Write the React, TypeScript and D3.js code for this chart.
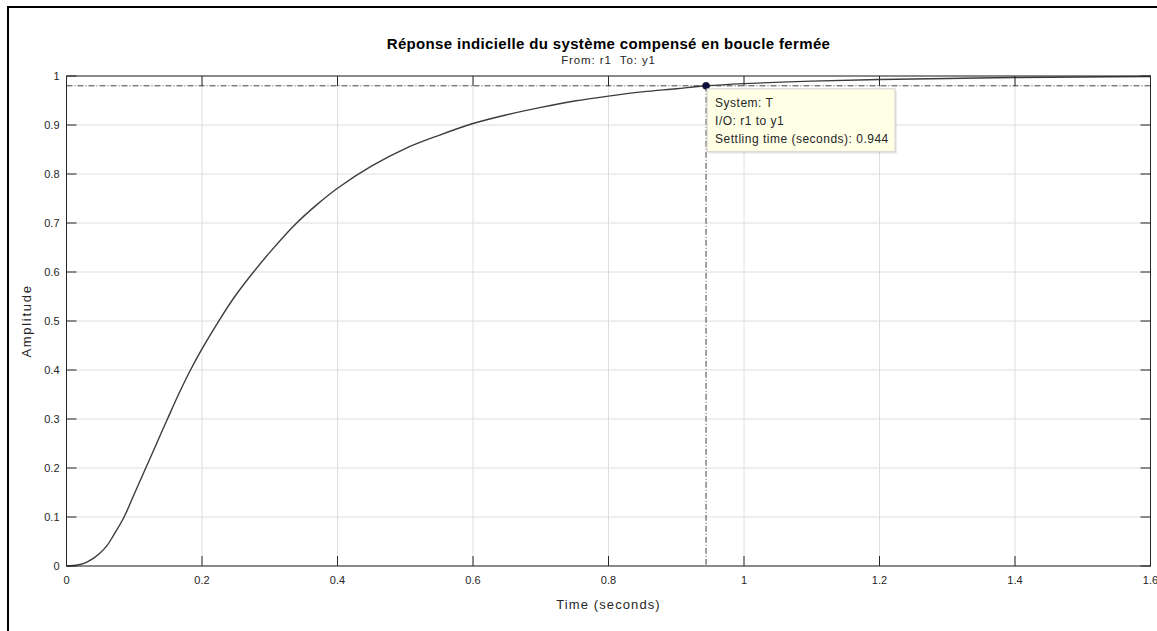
import React from "react";
import * as d3 from "d3";

const timeValues = [0, 0.01, 0.02, 0.03, 0.04, 0.05, 0.06, 0.07, 0.085, 0.1, 0.117, 0.133, 0.149, 0.166, 0.183, 0.2, 0.227, 0.25, 0.276, 0.3, 0.336, 0.37, 0.4, 0.45, 0.5, 0.55, 0.6, 0.65, 0.7, 0.75, 0.8, 0.85, 0.9, 0.944, 1.0, 1.1, 1.2, 1.3, 1.4, 1.5, 1.6];
const amplitudeValues = [0, 0.001, 0.003, 0.008, 0.016, 0.027, 0.042, 0.064, 0.1, 0.147, 0.2, 0.25, 0.3, 0.352, 0.4, 0.443, 0.505, 0.553, 0.6, 0.64, 0.695, 0.738, 0.771, 0.816, 0.852, 0.879, 0.903, 0.921, 0.936, 0.949, 0.959, 0.9675, 0.974, 0.98, 0.9845, 0.9895, 0.993, 0.995, 0.997, 0.998, 0.999];
const xTicks = [0, 0.2, 0.4, 0.6, 0.8, 1, 1.2, 1.4, 1.6];
const yTicks = [0, 0.1, 0.2, 0.3, 0.4, 0.5, 0.6, 0.7, 0.8, 0.9, 1];
const settlingTime = 0.944;
const settlingLevel = 0.98;
const tooltipLines = ["System: T", "I/O: r1 to y1", "Settling time (seconds): 0.944"];

const W = 1157, H = 631;
const L = 66.5, R = 1150.5, T = 76, B = 566;
const FONT = "'Liberation Sans', Arial, Helvetica, sans-serif";
const AX = "#262626";

export default function App() {
  const x = d3.scaleLinear().domain([0, 1.6]).range([L, R]);
  const y = d3.scaleLinear().domain([0, 1]).range([B, T]);
  const data = timeValues.map((t, i) => [t, amplitudeValues[i]] as [number, number]);
  const line = d3.line<[number, number]>().x(d => x(d[0])).y(d => y(d[1])).curve(d3.curveCatmullRom.alpha(0.5));
  const fmt = (v: number) => (v === 0 ? "0" : v === 1 ? "1" : String(+v.toFixed(1)));
  const tk = 10;
  const mx = x(settlingTime), my = y(settlingLevel);
  return (
    <svg width={W} height={H} style={{ position: "absolute", left: 0, top: 0, background: "#fff" }} fontFamily={FONT}>
      <rect x={0} y={0} width={W} height={H} fill="#fff" />
      <rect x={8} y={7} width={W + 10} height={H + 10} fill="none" stroke="#000" strokeWidth={2} />
      {xTicks.map(v => (
        <line key={"gx" + v} x1={x(v)} x2={x(v)} y1={T} y2={B} stroke="#dedede" strokeWidth={1} />
      ))}
      {yTicks.map(v => (
        <line key={"gy" + v} x1={L} x2={R} y1={y(v)} y2={y(v)} stroke="#dedede" strokeWidth={1} />
      ))}
      <line x1={L} x2={R} y1={my} y2={my} stroke="#444" strokeWidth={1} strokeDasharray="6,2,1,2" />
      <line x1={mx} x2={mx} y1={my} y2={B} stroke="#444" strokeWidth={1} strokeDasharray="6,2,1,2" />
      <path d={line(data) || ""} fill="none" stroke="#3c3c3c" strokeWidth={1.4} />
      <rect x={L} y={T} width={R - L} height={B - T} fill="none" stroke={AX} strokeWidth={1} />
      {xTicks.map(v => (
        <g key={"tx" + v}>
          <line x1={x(v)} x2={x(v)} y1={B} y2={B - tk} stroke={AX} />
          <line x1={x(v)} x2={x(v)} y1={T} y2={T + tk} stroke={AX} />
          <text x={x(v)} y={B + 18} textAnchor="middle" fontSize={11} fill={AX}>{fmt(v)}</text>
        </g>
      ))}
      {yTicks.map(v => (
        <g key={"ty" + v}>
          <line x1={L} x2={L + tk} y1={y(v)} y2={y(v)} stroke={AX} />
          <line x1={R} x2={R - tk} y1={y(v)} y2={y(v)} stroke={AX} />
          <text x={L - 7} y={y(v) + 4} textAnchor="end" fontSize={11} fill={AX}>{fmt(v)}</text>
        </g>
      ))}
      <circle cx={mx} cy={my} r={3.5} fill="#101040" stroke="#000" strokeWidth={0.5} />
      <rect x={mx + 3} y={my + 5} width={188} height={63} fill="#000" opacity={0.08} />
      <rect x={mx + 1} y={my + 3} width={188} height={63} fill="#ffffe6" stroke="#cfcfcf" strokeWidth={1} />
      {tooltipLines.map((s, i) => (
        <text key={s} x={mx + 9} y={my + 21 + i * 18} fontSize={12} letterSpacing={0.5} fill={AX}>{s}</text>
      ))}
      <text x={(L + R) / 2} y={49} textAnchor="middle" fontSize={15} fontWeight="bold" letterSpacing={0.35} fill="#000">
        Réponse indicielle du système compensé en boucle fermée
      </text>
      <text x={(L + R) / 2} y={64} textAnchor="middle" fontSize={11.5} letterSpacing={0.9} fill={AX} style={{ whiteSpace: "pre" }}>
        {"From: r1  To: y1"}
      </text>
      <text x={(L + R) / 2} y={609} textAnchor="middle" fontSize={13} letterSpacing={1.1} fill={AX}>Time (seconds)</text>
      <text transform={`translate(31,${(T + B) / 2}) rotate(-90)`} textAnchor="middle" fontSize={13} letterSpacing={1.7} fill={AX}>Amplitude</text>
    </svg>
  );
}
